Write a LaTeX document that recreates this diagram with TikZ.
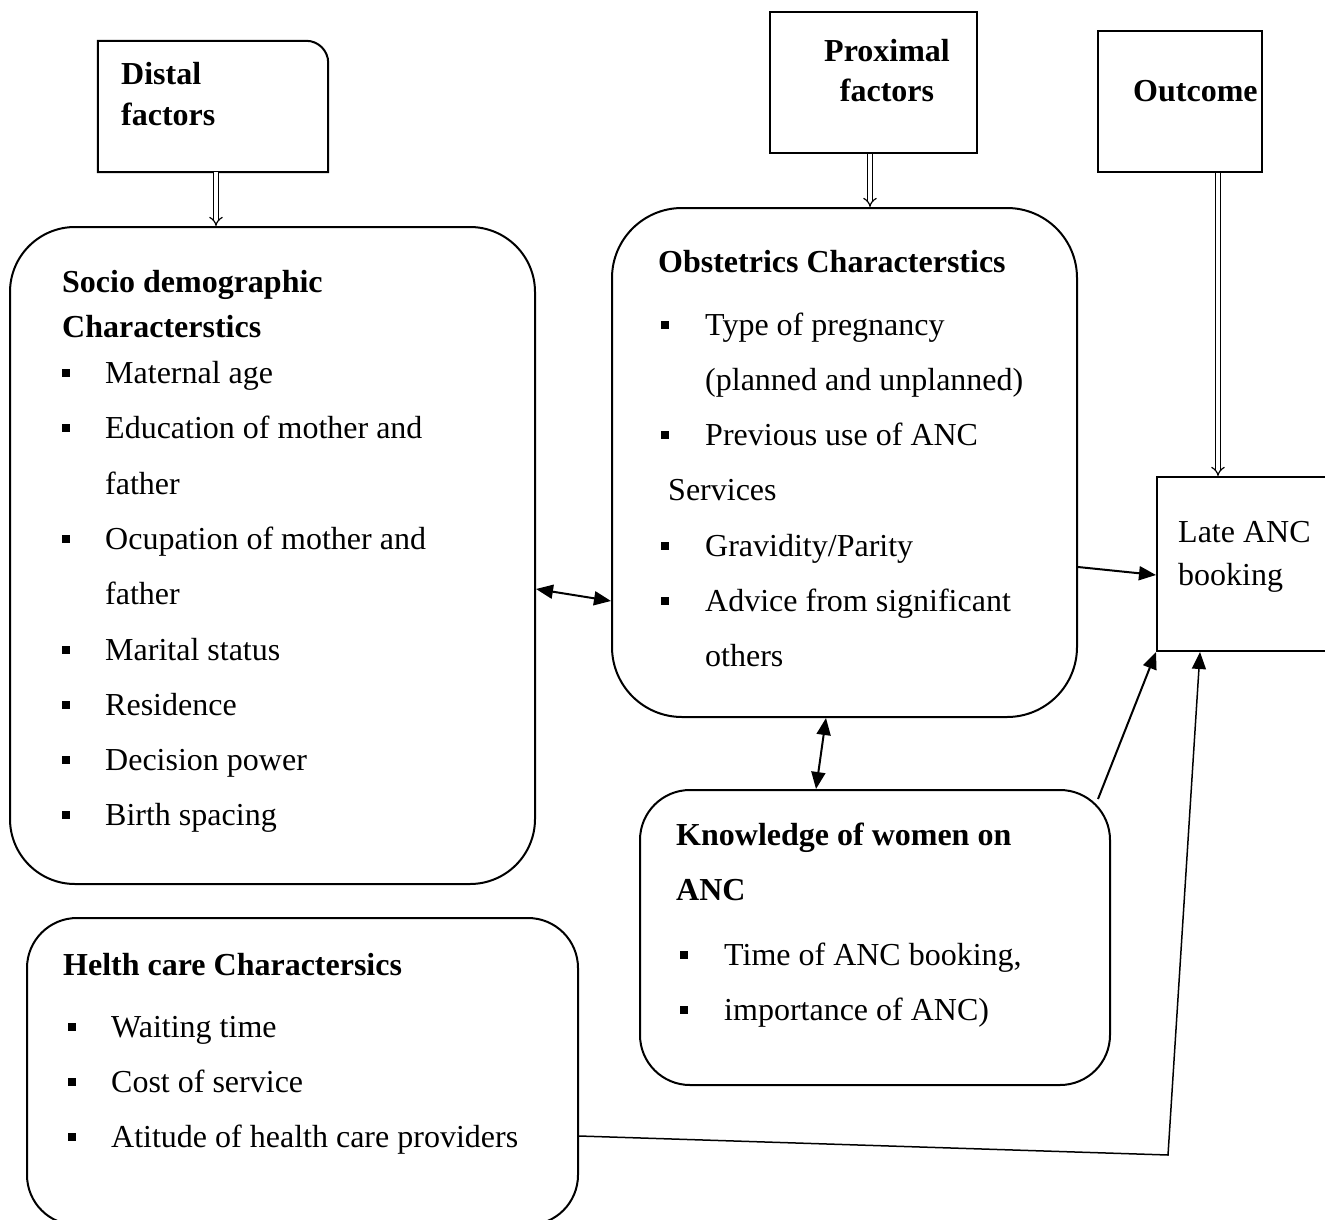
\documentclass[tikz,border=0pt]{standalone}
\usepackage{fontspec}
\setmainfont{Liberation Serif}
\usetikzlibrary{arrows.meta,calc}
\begin{document}
\begin{tikzpicture}[x=1pt,y=-1pt,
  box/.style={draw, line width=2pt, inner sep=0pt},
  shell/.style={inner sep=0pt},
  lbl/.style={anchor=base west, inner sep=0pt, font=\fontsize{32}{38}\selectfont},
  blbl/.style={anchor=base west, inner sep=0pt, font=\fontsize{32}{38}\selectfont\bfseries},
  bul/.style={fill, inner sep=0pt, minimum size=8.5pt},
  arr/.style={line width=2pt, -{Triangle[length=17pt,width=14pt]}},
  biarr/.style={line width=2pt, {Triangle[length=17pt,width=14pt]}-{Triangle[length=17pt,width=14pt]}},
  dbl/.style={double, double distance=3.5pt, line width=1.2pt, -{Implies}}
]
\clip (0,0) rectangle (1325,1220);

% ---- boxes ----
\node[shell, minimum width=230pt, minimum height=131pt] (distal) at (213,106.5) {};
\draw[line width=2pt] (distal.south west) -- (distal.north west) -- ([xshift=-22pt]distal.north east)
  arc[start angle=90, end angle=0, radius=22pt] -- (distal.south east) -- cycle;
\node[box, minimum width=207pt, minimum height=141pt] (prox) at (873.5,82.5) {};
\node[box, minimum width=164pt, minimum height=141pt] (outc) at (1180,101.5) {};
\node[box, rounded corners=65pt, minimum width=525pt, minimum height=657pt] (socio) at (272.5,555.5) {};
\node[box, rounded corners=70pt, minimum width=465pt, minimum height=509pt] (obst) at (844.5,462.5) {};
\node[box, minimum width=183pt, minimum height=174pt] (late) at (1248.5,564) {};
\node[box, rounded corners=50pt, minimum width=470pt, minimum height=295pt] (know) at (875,937.5) {};
\node[box, rounded corners=50pt, minimum width=551pt, minimum height=307pt] (health) at (302.5,1071.5) {};

% ---- header texts ----
\node[blbl] (d1) at (121,85) {Distal};
\node[blbl] (d2) at (121,126) {factors};
\node[blbl, anchor=base] (p1) at (887,62) {Proximal};
\node[blbl, anchor=base] (p2) at (887,102) {factors};
\node[blbl] (o1) at (1133,102) {Outcome};
\node[lbl] (l1) at (1178,542) {Late ANC};
\node[lbl] (l2) at (1178,585) {booking};

% ---- socio demographic ----
\node[blbl] (s0a) at (62,292) {Socio demographic};
\node[blbl] (s0b) at (62,337) {Characterstics};
\node[lbl] (s1) at (105,383) {Maternal age};
\node[lbl] (s2) at (105,438) {Education of mother and};
\node[lbl] (s2b) at (105,494) {father};
\node[lbl] (s3) at (105,549) {Ocupation of mother and};
\node[lbl] (s3b) at (105,604) {father};
\node[lbl] (s4) at (105,660) {Marital status};
\node[lbl] (s5) at (105,715) {Residence};
\node[lbl] (s6) at (105,770) {Decision power};
\node[lbl] (s7) at (105,825) {Birth spacing};
\foreach \y [count=\i] in {383,438,549,660,715,770,825}
  \node[bul] (sb\i) at (66,\y-10) {};

% ---- obstetrics ----
\node[blbl] (ob0) at (658,272) {Obstetrics Characterstics};
\node[lbl] (ob1) at (705,335) {Type of pregnancy};
\node[lbl] (ob1b) at (705,390) {(planned and unplanned)};
\node[lbl] (ob2) at (705,445) {Previous use of ANC};
\node[lbl] (ob2b) at (668,500) {Services};
\node[lbl] (ob3) at (705,556) {Gravidity/Parity};
\node[lbl] (ob4) at (705,611) {Advice from significant};
\node[lbl] (ob4b) at (705,666) {others};
\foreach \y [count=\i] in {335,445,556,611}
  \node[bul] (obb\i) at (665,\y-10) {};

% ---- knowledge ----
\node[blbl] (k0a) at (676,845) {Knowledge of women on};
\node[blbl] (k0b) at (676,900) {ANC};
\node[lbl] (k1) at (724,965) {Time of ANC booking,};
\node[lbl] (k2) at (724,1020) {importance of ANC)};
\foreach \y [count=\i] in {965,1020}
  \node[bul] (kb\i) at (684,\y-10) {};

% ---- health care ----
\node[blbl] (h0) at (63,975) {Helth care Charactersics};
\node[lbl] (h1) at (111,1037) {Waiting time};
\node[lbl] (h2) at (111,1092) {Cost of service};
\node[lbl] (h3) at (111,1147) {Atitude of health care providers};
\foreach \y [count=\i] in {1037,1092,1147}
  \node[bul] (hb\i) at (72,\y-10) {};

% ---- connectors ----
\draw[dbl] ([xshift=3pt]distal.south) -- ([xshift=3pt]distal.south |- socio.north);
\draw[dbl] ([xshift=-3.5pt]prox.south) -- ([xshift=-3.5pt]prox.south |- obst.north);
\draw[dbl] ([xshift=38pt]outc.south) -- ([xshift=38pt]outc.south |- late.north);
\draw[biarr] ([yshift=-33.5pt]socio.east) -- ([yshift=-138.5pt]obst.west);
\draw[biarr] ([xshift=-18.5pt]obst.south) -- ([xshift=-59pt]know.north);
\draw[arr] ([yshift=-104.5pt]obst.east) -- ([yshift=-11pt]late.west);
\draw[arr] ([xshift=-13pt,yshift=-10pt]know.north east) -- (late.south west);
\coordinate (hc) at (1168,1155);
\draw[line width=1.5pt, -{Triangle[length=17pt,width=14pt]}] ([yshift=-64.5pt]health.east) -- (hc) -- ([xshift=-48.5pt]late.south);
\end{tikzpicture}
\end{document}
